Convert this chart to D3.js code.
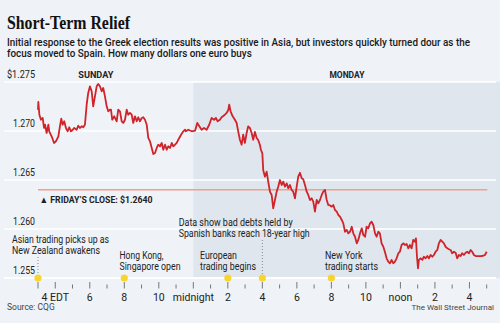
<!DOCTYPE html>
<html><head><meta charset="utf-8">
<script src="https://cdn.jsdelivr.net/npm/d3@7"></script>
<style>html,body{margin:0;padding:0;background:#eff2f7;} svg{display:block;}</style>
</head><body>
<svg id="c" width="500" height="323"></svg>
<script>
// Hours since 3 p.m. EDT Sunday
const hours = [0.00,0.02,0.08,0.17,0.27,0.35,0.41,0.50,0.60,0.65,0.79,0.93,1.04,1.18,1.27,1.35,1.43,1.52,1.62,1.72,1.81,1.91,2.01,2.10,2.24,2.33,2.43,2.53,2.62,2.72,2.82,2.91,3.01,3.11,3.20,3.30,3.40,3.49,3.59,3.69,3.78,3.88,3.98,4.07,4.17,
4.23,4.30,4.42,4.56,4.65,4.75,4.85,4.94,5.04,5.14,5.23,5.33,5.43,5.52,5.62,5.72,5.81,5.91,6.01,6.10,6.20,6.30,6.39,6.49,6.59,6.68,6.78,6.88,6.97,7.07,7.17,7.26,7.36,7.46,7.55,7.65,7.75,7.84,7.94,8.04,8.13,8.29,8.42,8.52,
8.57,8.71,8.91,9.10,9.23,9.35,9.48,9.62,9.77,9.92,10.06,10.20,10.31,10.41,10.54,10.64,10.79,10.93,11.03,11.08,11.16,11.28,11.41,11.51,11.60,11.70,11.80,11.89,11.99,12.09,12.18,12.28,12.38,12.47,12.57,12.67,12.76,12.86,
12.92,13.00,13.05,13.15,13.25,13.34,13.44,13.54,13.63,13.73,13.83,13.92,14.02,14.12,14.21,14.31,14.41,14.50,14.60,14.70,14.79,14.89,14.99,15.08,15.18,15.28,15.37,15.47,15.57,15.66,15.76,15.86,15.95,16.05,16.15,16.24,16.34,16.44,16.53,16.63,16.73,16.82,
16.92,17.02,17.11,17.21,17.31,17.40,17.50,17.60,17.69,17.79,17.89,17.98,18.08,18.18,18.27,18.37,18.47,18.56,18.66,18.76,18.85,18.95,19.04,19.14,19.24,19.33,19.43,19.53,19.62,19.72,19.81,19.91,20.01,20.10,20.20,20.30,20.39,20.49,20.59,20.68,20.78,20.88,20.97,21.07,21.17,
21.26,21.36,21.46,21.55,21.65,21.74,21.84,21.90,21.96,22.02,22.07,22.17,22.27,22.36,22.46,22.56,22.65,22.75,22.85,22.94,23.04,23.14,23.23,23.33,23.43,23.52,23.62,23.72,23.81,23.91,24.00,24.10,24.20,24.29,24.39,24.49,24.58,24.68,24.78,24.87,24.97,25.07,25.16,25.26,25.36,25.51,25.66,25.80,25.90,26.00];
const rates = [1.27217,1.27296,1.27166,1.27115,1.27133,1.27031,1.27064,1.2698,1.27064,1.26997,1.26946,1.26878,1.26895,1.26946,1.27048,1.27126,1.27064,1.27099,1.27031,1.26997,1.27038,1.26997,1.27013,1.27031,1.27013,1.27054,1.27031,1.27048,1.27038,1.27064,1.27268,1.27388,1.27456,1.27405,1.27252,1.27354,1.27456,1.2748,1.27456,1.27405,1.27439,1.27354,1.27252,1.27201,1.27217,
1.27217,1.27115,1.2715,1.27099,1.27217,1.27201,1.27099,1.27082,1.27115,1.27217,1.27166,1.27184,1.27166,1.27082,1.2715,1.27099,1.2714,1.27099,1.27133,1.2714,1.27115,1.27064,1.26929,1.26895,1.26827,1.26765,1.26776,1.26827,1.2686,1.26844,1.26878,1.26809,1.2686,1.26809,1.26844,1.26827,1.26878,1.26844,1.2686,1.26878,1.26911,1.26962,1.26997,1.27013,
1.26997,1.27013,1.26997,1.27003,1.27082,1.27048,1.27013,1.27031,1.27013,1.27064,1.27133,1.27115,1.27133,1.27099,1.27115,1.2714,1.2716,1.27184,1.27217,1.27268,1.27201,1.2715,1.27115,1.27082,1.26997,1.26911,1.2686,1.26962,1.26878,1.2698,1.27048,1.27031,1.2698,1.26911,1.2699,1.26929,1.26908,1.26857,
1.26806,1.26772,1.26602,1.26534,1.26585,1.26483,1.26381,1.26347,1.26211,1.26296,1.26381,1.26432,1.2650,1.26449,1.26483,1.26432,1.26466,1.26415,1.26449,1.26398,1.26381,1.26313,1.26432,1.26534,1.26574,1.26517,1.26507,1.26449,1.26381,1.26347,1.26296,1.26313,1.26279,1.26177,1.26296,1.26262,1.26296,1.26347,1.26381,1.26398,1.26296,1.26245,
1.2624,1.26228,1.26245,1.26194,1.26177,1.26143,1.26126,1.26092,1.26058,1.25972,1.2599,1.25956,1.25972,1.26023,1.25956,1.25921,1.25854,1.25888,1.25956,1.26007,1.25939,1.25921,1.26023,1.26007,1.26058,1.26074,1.26041,1.25956,1.25921,1.25972,1.25956,1.25854,1.25819,1.25768,1.25701,1.25666,1.2565,1.25684,1.2565,1.25666,1.25701,1.25752,1.25768,1.25837,1.25854,
1.25837,1.25847,1.25803,1.25837,1.25803,1.25888,1.2587,1.25905,1.25717,1.25599,1.25684,1.25701,1.25684,1.25717,1.25701,1.25724,1.25701,1.25735,1.25717,1.25735,1.25768,1.25786,1.25854,1.25888,1.2587,1.25854,1.25819,1.25803,1.25793,1.25786,1.25752,1.25768,1.25758,1.25701,1.25735,1.25724,1.25752,1.25735,1.25758,1.25768,1.25752,1.25786,1.25768,1.25735,1.25724,1.25724,1.25724,1.25727,1.25735,1.25768];

const yTicks = [1.255, 1.260, 1.265, 1.270, 1.275];
const yTickLabels = ["1.255", "1.260", "1.265", "1.270", "$1.275"];
const xTickHours = [1, 3, 5, 7, 9, 11, 13, 15, 17, 19, 21, 23, 25];
const xTickLabels = ["4 EDT", "6", "8", "10", "midnight", "2", "4", "6", "8", "10", "noon", "2", "4"];
const fridayClose = 1.2640;
const mondayStart = 9; // midnight
const dayLabels = ["SUNDAY", "MONDAY"];
const dayLabelHours = [3.35, 17.9];
const eventHours = [0, 5, 11, 13, 17];
const eventTexts = [
  ["Asian trading picks up as", "New Zealand awakens"],
  ["Hong Kong,", "Singapore open"],
  ["European", "trading begins"],
  ["Data show bad debts held by", "Spanish banks reach 18-year high"],
  ["New York", "trading starts"]
];

const svg = d3.select("#c");
const W = 500, H = 323;
const x = d3.scaleLinear().domain([0, 26]).range([38, 486.7]);
const y = d3.scaleLinear().domain([1.255, 1.275]).range([278, 82]);
const sans = "Roboto, 'Noto Sans', 'Liberation Sans', sans-serif";

function fit(sel, w) {
  const L = sel.node().getComputedTextLength();
  if (Math.abs(L - w) > 1) sel.attr("textLength", w).attr("lengthAdjust", "spacingAndGlyphs");
  return sel;
}

svg.append("rect").attr("width", W).attr("height", H).attr("fill", "#eff2f7");
// Monday shading
svg.append("rect").attr("x", x(mondayStart)).attr("y", y(1.275))
  .attr("width", W - x(mondayStart)).attr("height", y(1.255) - y(1.275)).attr("fill", "#dfe6ee");

// gridlines
svg.selectAll("line.grid").data(yTicks).join("line").attr("class", "grid")
  .attr("x1", 4).attr("x2", 496).attr("y1", d => y(d)).attr("y2", d => y(d))
  .attr("stroke", "#ffffff").attr("stroke-width", 1.7);

// y labels
svg.selectAll("text.ylab").data(yTicks).join("text").attr("class", "ylab")
  .attr("x", 35).attr("y", d => y(d) - 4).attr("text-anchor", "end")
  .attr("font-family", sans).attr("font-size", 10.3).attr("fill", "#222")
  .text((d, i) => yTickLabels[i])
  .each(function(d, i) { fit(d3.select(this), i === 4 ? 28 : 22); });

// Friday's close
svg.append("line").attr("x1", x(0)).attr("x2", x(26) + 0.6).attr("y1", y(fridayClose)).attr("y2", y(fridayClose))
  .attr("stroke", "#f0a08e").attr("stroke-width", 1.5);
fit(svg.append("text").attr("x", 39.5).attr("y", y(fridayClose) + 13)
  .attr("font-family", sans).attr("font-weight", 700).attr("font-size", 9.5).attr("fill", "#222")
  .text("\u25B2 FRIDAY\u2019S CLOSE: $" + fridayClose.toFixed(4)), 113);

// day labels
dayLabels.forEach((t, i) => {
  fit(svg.append("text").attr("x", x(dayLabelHours[i])).attr("y", 77.5).attr("text-anchor", "middle")
    .attr("font-family", sans).attr("font-weight", 700).attr("font-size", 9.5).attr("fill", "#222").text(t), 35);
});

// event dotted connectors
const connTop = {0: 257, 13: 240};
Object.keys(connTop).forEach(k => {
  svg.append("line").attr("x1", x(+k)).attr("x2", x(+k)).attr("y1", connTop[k]).attr("y2", 277)
    .attr("stroke", "#888").attr("stroke-width", 1).attr("stroke-dasharray", "1,2");
});

// data line
const line = d3.line().x((d, i) => x(hours[i])).y(d => y(d));
svg.append("path").datum(rates).attr("d", line).attr("fill", "none")
  .attr("stroke", "#d1232a").attr("stroke-width", 1.8).attr("stroke-linejoin", "round");

// axis line
svg.append("line").attr("x1", 4).attr("x2", 496).attr("y1", y(1.255)).attr("y2", y(1.255))
  .attr("stroke", "#ffffff").attr("stroke-width", 1.7);

// ticks
const allHours = d3.range(0, 27);
svg.selectAll("line.tick").data(allHours).join("line").attr("class", "tick")
  .attr("x1", d => x(d)).attr("x2", d => x(d))
  .attr("y1", d => (d % 2 === 1 || d === 0) ? 282 : 284.5)
  .attr("y2", 288.5)
  .attr("stroke", "#777").attr("stroke-width", 1);
svg.selectAll("text.xlab").data(xTickHours).join("text").attr("class", "xlab")
  .attr("x", d => x(d)).attr("y", 300.5).attr("text-anchor", "middle")
  .attr("font-family", sans).attr("font-size", 10.5).attr("fill", "#222")
  .text((d, i) => xTickLabels[i]);

// event dots
svg.selectAll("circle.ev").data(eventHours).join("circle").attr("class", "ev")
  .attr("cx", d => x(d)).attr("cy", y(1.255)).attr("r", 3.6)
  .attr("fill", "#f7d531");

// event texts
const evPos = [
  {x: 12, y: 242.5, w: [97, 88]},
  {x: 119.5, y: 258.5, w: [44, 61]},
  {x: 200, y: 258.5, w: [37, 56]},
  {x: 178.7, y: 225.7, w: [114, 131]},
  {x: 325, y: 258.5, w: [37.5, 53]}
];
eventTexts.forEach((lines, i) => {
  lines.forEach((t, j) => {
    fit(svg.append("text").attr("x", evPos[i].x).attr("y", evPos[i].y + j * 11)
      .attr("font-family", sans).attr("font-size", 10).attr("fill", "#222").text(t), evPos[i].w[j]);
  });
});

// title, subtitle
fit(svg.append("text").attr("x", 7).attr("y", 29).attr("font-family", "'Liberation Serif', 'DejaVu Serif', serif")
  .attr("font-weight", 700).attr("font-size", 18).attr("fill", "#111").text("Short-Term Relief"), 123);
const sub = ["Initial response to the Greek election results was positive in Asia, but investors quickly turned dour as the",
             "focus moved to Spain. How many dollars one euro buys"];
const subLines = sub.map((t, j) => svg.append("text").attr("x", 7).attr("y", 45.5 + j * 11.5).attr("font-family", sans)
    .attr("font-weight", 500).attr("font-size", 10.3).attr("fill", "#1a1a1a").text(t));
const k = 463 / subLines[0].node().getComputedTextLength();
subLines.forEach(s => fit(s, s.node().getComputedTextLength() * k));

// footer
svg.append("text").attr("x", 7).attr("y", 310).attr("font-family", sans).attr("font-size", 8.5)
  .attr("fill", "#444").text("Source: CQG");
svg.append("text").attr("x", 494).attr("y", 310).attr("text-anchor", "end").attr("font-family", sans).attr("font-size", 8)
  .attr("fill", "#444").text("The Wall Street Journal");
</script>
</body></html>
